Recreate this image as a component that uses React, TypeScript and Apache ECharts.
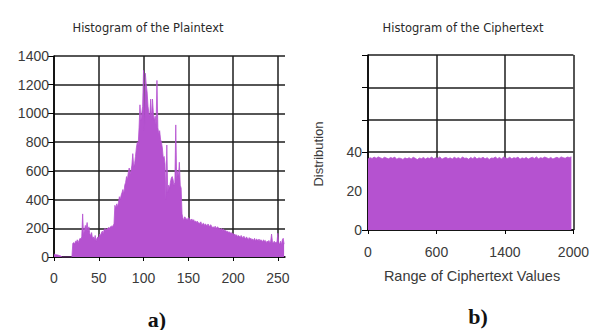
import React, { useEffect, useRef } from "react";
import * as echarts from "echarts";

// ---- Data ----
const plainCounts: number[] = [
  20, 18, 15, 15, 14, 12, 10, 8, 5, 0,
  0, 0, 0, 0, 0, 0, 0, 0, 0, 0,
  0, 95, 100, 90, 110, 105, 120, 100, 115, 130,
  125, 140, 300, 150, 190, 220, 200, 240, 180, 210,
  160, 150, 170, 130, 140, 120, 150, 110, 130, 140,
  130, 160, 150, 170, 180, 160, 190, 200, 185, 195,
  200, 205, 200, 210, 215, 210, 220, 230, 360, 340,
  370, 350, 380, 420, 400, 430, 450, 470, 440, 500,
  520, 560, 540, 590, 620, 580, 600, 640, 720, 630,
  650, 700, 760, 800, 780, 900, 1060, 950, 1000, 1050,
  1300, 880, 1280, 1200, 1150, 1050, 1000, 980, 1100, 960,
  1100, 1000, 950, 980, 920, 1230, 900, 860, 880, 820,
  800, 760, 690, 700, 650, 400, 780, 450, 500, 480,
  520, 550, 560, 540, 500, 520, 920, 540, 600, 560,
  660, 500, 480, 300, 270, 260, 280, 270, 265, 260,
  275, 270, 260, 255, 265, 250, 260, 245, 250, 240,
  250, 235, 240, 230, 245, 225, 230, 235, 220, 230,
  225, 215, 230, 220, 210, 225, 215, 205, 210, 200,
  215, 200, 205, 210, 195, 200, 190, 200, 185, 195,
  190, 180, 185, 175, 180, 170, 175, 165, 170, 160,
  165, 150, 160, 145, 155, 140, 150, 145, 135, 150,
  140, 130, 145, 135, 125, 140, 130, 120, 135, 125,
  130, 120, 125, 115, 130, 110, 125, 120, 115, 125,
  110, 120, 115, 105, 120, 110, 115, 100, 110, 105,
  115, 100, 110, 160, 105, 100, 110, 95, 105, 100,
  165, 95, 90, 110, 85, 120, 130, 90,
];

const cipherCounts: number[] = [
  36.5, 37.2, 36.8, 37.5, 36.9, 37.6, 37.1, 36.7, 37.4, 37.0,
  36.6, 37.3, 36.9, 37.5, 36.4, 37.0, 36.8, 36.3, 37.1, 36.6,
  37.2, 36.5, 37.4, 36.9, 36.2, 37.0, 36.7, 37.3, 36.5, 37.1,
  36.8, 37.5, 36.6, 37.2, 36.9, 37.6, 36.4, 37.0, 37.3, 36.7,
  37.1, 36.5, 37.4, 36.8, 37.2, 36.6, 37.5, 36.9, 37.0, 36.4,
  37.3, 36.7, 37.6, 36.5, 37.1, 36.8, 37.4, 36.6, 37.2, 36.3,
  37.0, 36.9, 37.5, 36.7, 37.3, 36.5, 37.6, 37.0, 36.8, 37.4,
  36.6, 37.2, 36.9, 37.5, 36.4, 37.1, 36.7, 37.3, 36.5, 37.0,
  37.4, 36.8, 37.6, 36.6, 37.2, 36.9, 37.5, 37.1, 36.7, 37.3,
  36.5, 37.0, 37.4, 36.8, 37.6, 37.2, 36.9, 37.5, 37.3, 37.6,
];
const cipherBinWidth = 20;

const plainXTicks = [0, 50, 100, 150, 200, 250];
const plainYMax = 1400;
const cipherXLabels = ["0", "600", "1400", "2000"];
const cipherXMax = 2000;
const cipherYLabels = [0, 20, 40];
const cipherYGrid = [0, 40, 56.67, 73.33, 90];

const PURPLE = "#b552d0";
const GRID = "#1e1e1e";
const TXT = "#3a3a3a";
const TICK_FONT = "'Liberation Sans', Arial, sans-serif";

export default function App() {
  const ref = useRef<HTMLDivElement>(null);
  useEffect(() => {
    if (!ref.current) return;
    const chart = echarts.init(ref.current, undefined, { renderer: "svg" });
    const axisLine = { show: true, lineStyle: { color: "#000", width: 1.5 } };
    const splitLine = { show: true, lineStyle: { color: GRID, width: 1.5 } };
    const tick = { show: true, length: 6, lineStyle: { color: "#000", width: 1 } };
    const label = { color: TXT, fontSize: 14, fontFamily: TICK_FONT };
    chart.setOption({
      animation: false,
      backgroundColor: "#fff",
      grid: [
        { left: 54, top: 56, width: 231, height: 201 },
        { left: 368, top: 55, width: 208, height: 175 },
      ],
      xAxis: [
        {
          type: "value",
          gridIndex: 0,
          min: 0,
          max: 258,
          interval: 50,
          axisLine,
          axisTick: { ...tick, length: 4, customValues: plainXTicks },
          axisLabel: { ...label, customValues: plainXTicks, margin: 14 },
          splitLine,
        },
        {
          type: "value",
          gridIndex: 1,
          min: 0,
          max: cipherXMax,
          interval: cipherXMax / 3,
          axisLine,
          axisTick: { ...tick, length: 4 },
          axisLabel: {
            ...label,
            margin: 15,
            formatter: (v: number) =>
              cipherXLabels[Math.round((v * 3) / cipherXMax)] ?? "",
          },
          splitLine,
        },
      ],
      yAxis: [
        {
          type: "value",
          gridIndex: 0,
          min: 0,
          max: plainYMax,
          interval: 200,
          axisLine,
          axisTick: tick,
          axisLabel: { ...label, margin: 5, formatter: (v: number) => String(v) },
          splitLine,
        },
        {
          type: "value",
          gridIndex: 1,
          min: 0,
          max: 90,
          axisLine,
          axisTick: { ...tick, customValues: cipherYGrid },
          axisLabel: {
            ...label,
            customValues: cipherYLabels,
            margin: 6,
            formatter: (v: number) => String(v),
          },
          splitLine,
        },
      ],
      series: [
        {
          type: "line",
          xAxisIndex: 0,
          yAxisIndex: 0,
          data: plainCounts.map((v, i) => [i, v]),
          symbol: "none",
          lineStyle: { color: PURPLE, width: 0.8 },
          areaStyle: { color: PURPLE, opacity: 1 },
          z: 3,
        },
        {
          type: "line",
          xAxisIndex: 1,
          yAxisIndex: 1,
          data: cipherCounts.map((v, i) => [i * cipherBinWidth, v]),
          symbol: "none",
          lineStyle: { color: PURPLE, width: 0.8 },
          areaStyle: { color: PURPLE, opacity: 1 },
          z: 3,
        },
      ],
      graphic: [
        {
          type: "text",
          x: 148,
          y: 28,
          style: {
            text: "Histogram of the Plaintext",
            fill: "#2a2a2a",
            font: "11.5px DejaVu Sans, sans-serif",
            align: "center",
            verticalAlign: "middle",
          },
        },
        {
          type: "text",
          x: 463,
          y: 28,
          style: {
            text: "Histogram of the Ciphertext",
            fill: "#2a2a2a",
            font: "11.5px DejaVu Sans, sans-serif",
            align: "center",
            verticalAlign: "middle",
          },
        },
        {
          type: "text",
          x: 472,
          y: 276,
          style: {
            text: "Range of Ciphertext Values",
            fill: TXT,
            font: "14.5px Liberation Sans, Arial, sans-serif",
            align: "center",
            verticalAlign: "middle",
          },
        },
        {
          type: "text",
          x: 318,
          y: 154,
          rotation: Math.PI / 2,
          style: {
            text: "Distribution",
            fill: TXT,
            font: "13px Liberation Sans, Arial, sans-serif",
            align: "center",
            verticalAlign: "middle",
          },
        },
        {
          type: "text",
          x: 157,
          y: 319,
          style: {
            text: "a)",
            fill: "#111",
            font: "bold 22px Liberation Serif, serif",
            align: "center",
            verticalAlign: "middle",
          },
        },
        {
          type: "text",
          x: 478,
          y: 316,
          style: {
            text: "b)",
            fill: "#111",
            font: "bold 22px Liberation Serif, serif",
            align: "center",
            verticalAlign: "middle",
          },
        },
      ],
    });
    return () => chart.dispose();
  }, []);
  return (
    <div
      ref={ref}
      style={{ position: "fixed", left: 0, top: 0, width: 592, height: 330 }}
    />
  );
}
